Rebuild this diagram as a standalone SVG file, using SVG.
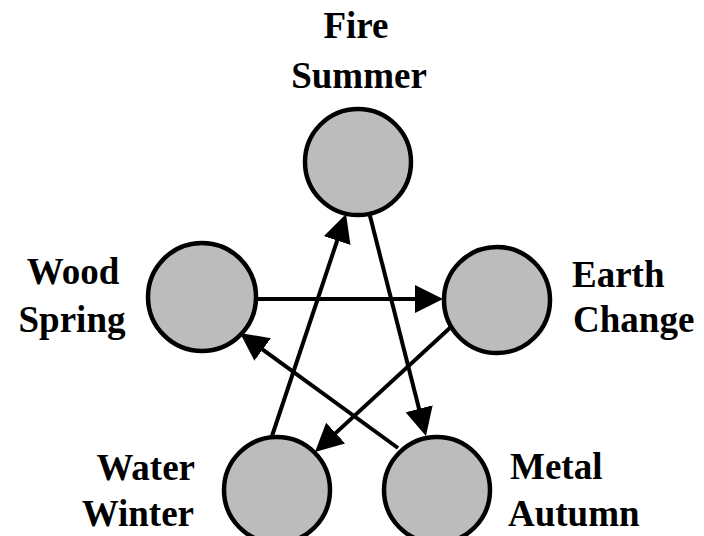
<svg xmlns="http://www.w3.org/2000/svg" width="704" height="536" viewBox="0 0 704 536">
<defs>
<style>
.node circle{fill:#bcbcbc;stroke:#000;stroke-width:4.5}
.lbl{font-family:"Liberation Serif","Times New Roman",serif;font-weight:bold;font-size:37px;fill:#000}
.edge{stroke:#000;stroke-width:4;fill:none;marker-end:url(#ah)}
</style>
<marker id="ah" viewBox="0 0 28 28" refX="20" refY="14" markerWidth="28" markerHeight="28" markerUnits="userSpaceOnUse" orient="auto">
<path d="M0,0 L28,14 L0,28 Z" fill="#000"/>
</marker>
</defs>
<rect width="704" height="536" fill="#fff"/>
<g id="fire" class="node">
<circle cx="358" cy="162" r="53"/>
<text class="lbl" x="356" y="38" text-anchor="middle">Fire</text>
<text class="lbl" x="359" y="88" text-anchor="middle">Summer</text>
</g>
<g id="wood" class="node">
<circle cx="202" cy="297" r="54"/>
<text class="lbl" x="73" y="284" text-anchor="middle">Wood</text>
<text class="lbl" x="72" y="332" text-anchor="middle">Spring</text>
</g>
<g id="earth" class="node">
<circle cx="497" cy="300" r="53"/>
<text class="lbl" x="572" y="287">Earth</text>
<text class="lbl" x="573" y="332">Change</text>
</g>
<g id="water" class="node">
<circle cx="277" cy="490" r="53"/>
<text class="lbl" x="195" y="480" text-anchor="end">Water</text>
<text class="lbl" x="194" y="526" text-anchor="end">Winter</text>
</g>
<g id="metal" class="node">
<circle cx="437" cy="490" r="53"/>
<text class="lbl" x="510" y="479">Metal</text>
<text class="lbl" x="508" y="526">Autumn</text>
</g>
<g id="connectors">
<line class="edge" x1="257" y1="299" x2="435" y2="299"/>
<line class="edge" x1="452" y1="326" x2="320.9" y2="446.6"/>
<line class="edge" x1="272" y1="436" x2="343.5" y2="221.6"/>
<line class="edge" x1="369" y1="212" x2="424" y2="428.2"/>
<line class="edge" x1="398" y1="448" x2="246.5" y2="337.7"/>
</g>
</svg>
